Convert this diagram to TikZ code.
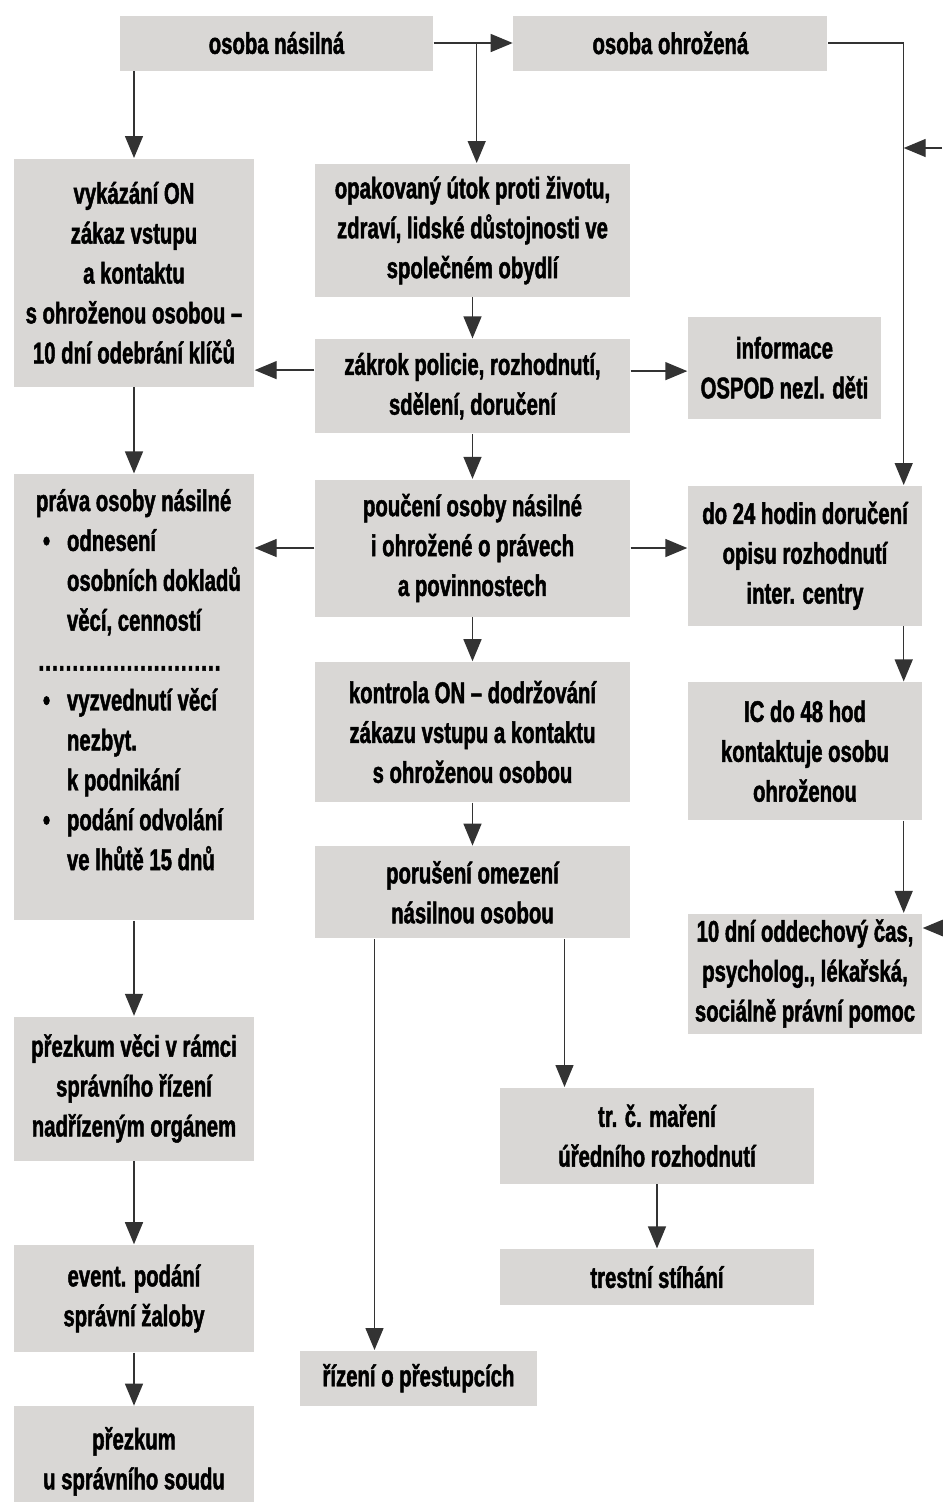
\documentclass[tikz,border=0pt]{standalone}
\usepackage{fontspec}
\newfontfamily\boxfont{Liberation Sans Bold}[FakeStretch=0.68,FakeBold=1.5]
\usetikzlibrary{arrows.meta,positioning}
\definecolor{boxgray}{RGB}{217,215,213}

\begin{document}
\begin{tikzpicture}[->,>={Triangle[length=0.44cm,width=0.36cm]},line width=0.8pt,
                    color=black!80,node distance=1cm]
  \tikzstyle{box}=[fill=boxgray,draw=none,text=black,align=center,inner sep=0pt,
                   font=\boxfont\fontsize{17pt}{22.7pt}\selectfont]
  \tikzstyle{lbox}=[box,minimum width=4.8cm]
  \tikzstyle{mbox}=[box,minimum width=6.3cm]
  \tikzstyle{rbox}=[box,minimum width=4.68cm]

  \useasboundingbox (0,0) rectangle (18.84,-30.04);

  % top row
  \node[box,minimum width=6.26cm,minimum height=1.1cm] (nasilna) at (5.53,-0.86) {osoba násilná};
  \node[box,minimum width=6.28cm,minimum height=1.1cm] (ohrozena) [right=1.58cm of nasilna] {osoba ohrožená};

  % left column
  \node[lbox,minimum height=4.56cm,anchor=north] (vykazani) at (2.68,-3.16)
       {vykázání ON\\zákaz vstupu\\a kontaktu\\s ohroženou osobou –\\10 dní odebrání klíčů};
  \node[lbox,minimum height=8.92cm] (prava) [below=1.72cm of vykazani] {};
  \node[box,fill=none,align=left,anchor=north west] (pravatext)
       at ([xshift=0.44cm,yshift=-0.3cm]prava.north west)
       {práva osoby násilné\\
        \hspace*{0.14cm}\makebox[0.48cm][l]{•}odnesení\\
        \hspace*{0.62cm}osobních dokladů\\
        \hspace*{0.62cm}věcí, cenností\\
        \hspace*{0.04cm}\makebox[3.66cm]{\xleaders\hbox to 0.135cm{\hss.\hss}\hfill}\\
        \hspace*{0.14cm}\makebox[0.48cm][l]{•}vyzvednutí věcí\\
        \hspace*{0.62cm}nezbyt.\\
        \hspace*{0.62cm}k podnikání\\
        \hspace*{0.14cm}\makebox[0.48cm][l]{•}podání odvolání\\
        \hspace*{0.62cm}ve lhůtě 15 dnů};
  \node[lbox,minimum height=2.88cm] (prezkum) [below=1.9cm of prava]
       {přezkum věci v rámci\\správního řízení\\nadřízeným orgánem};
  \node[lbox,minimum height=2.14cm] (zaloba) [below=1.66cm of prezkum]
       {event. podání\\správní žaloby};
  \node[lbox,minimum height=2.2cm] (soud) [below=1.06cm of zaloba]
       {přezkum\\u správního soudu};

  % middle column
  \node[mbox,minimum height=2.66cm,anchor=north] (utok) at (9.45,-3.26)
       {opakovaný útok proti životu,\\zdraví, lidské důstojnosti ve\\společném obydlí};
  \node[mbox,minimum height=1.88cm] (zakrok) [below=0.82cm of utok]
       {zákrok policie, rozhodnutí,\\sdělení, doručení};
  \node[mbox,minimum height=2.74cm] (pouceni) [below=0.9cm of zakrok]
       {poučení osoby násilné\\i ohrožené o právech\\a povinnostech};
  \node[mbox,minimum height=2.8cm] (kontrola) [below=0.88cm of pouceni]
       {kontrola ON – dodržování\\zákazu vstupu a kontaktu\\s ohroženou osobou};
  \node[mbox,minimum height=1.84cm] (poruseni) [below=0.86cm of kontrola]
       {porušení omezení\\násilnou osobou};
  \node[box,minimum width=6.28cm,minimum height=1.92cm,anchor=north] (trc) at (13.14,-21.74)
       {tr. č. maření\\úředního rozhodnutí};
  \node[box,minimum width=6.28cm,minimum height=1.12cm] (trestni) [below=1.28cm of trc]
       {trestní stíhání};
  \node[box,minimum width=4.74cm,minimum height=1.1cm,anchor=north] (prestupky) at (8.37,-27.0)
       {řízení o přestupcích};

  % right column
  \node[box,minimum width=3.86cm,minimum height=2.04cm,anchor=north] (informace) at (15.69,-6.32)
       {informace\\OSPOD nezl. děti};
  \node[rbox,minimum height=2.8cm,anchor=north] (do24) at (16.1,-9.7)
       {do 24 hodin doručení\\opisu rozhodnutí\\inter. centry};
  \node[rbox,minimum height=2.76cm] (ic) [below=1.1cm of do24]
       {IC do 48 hod\\kontaktuje osobu\\ohroženou};
  \node[rbox,minimum height=2.4cm] (oddech) [below=1.84cm of ic]
       {10 dní oddechový čas,\\psycholog., lékařská,\\sociálně právní pomoc};

  \coordinate (split) at ([xshift=0.86cm]nasilna.east);
  \coordinate (rline) at ([xshift=-0.38cm]do24.north east);
  \coordinate (inA) at (18.84,-2.96);
  \coordinate (inB) at (18.84,-18.56);
  \coordinate (zl) at ([yshift=0.32cm]zakrok.west);
  \coordinate (zr) at ([yshift=0.3cm]zakrok.east);
  \coordinate (pA) at ([xshift=-1.96cm]poruseni.south);
  \coordinate (pB) at ([xshift=1.84cm]poruseni.south);

  \path (nasilna) edge (ohrozena)
        (utok) edge (zakrok)
        (zakrok) edge (pouceni)
        (pouceni) edge (kontrola)
        (kontrola) edge (poruseni)
        (vykazani) edge (prava)
        (prava) edge (prezkum)
        (prezkum) edge (zaloba)
        (zaloba) edge (soud)
        (trc) edge (trestni);

  \draw (vykazani.north |- nasilna.south) -- (vykazani.north);
  \draw (split) -- (split |- utok.north);
  \draw (ohrozena.east) -| (rline);
  \draw (inA) -- (inA -| rline);
  \draw (zl) -- (zl -| vykazani.east);
  \draw (zr) -- (zr -| informace.west);
  \draw (pouceni.west) -- (pouceni.west -| prava.east);
  \draw (pouceni.east) -- (pouceni.east -| do24.west);
  \draw (do24.south -| rline) -- (ic.north -| rline);
  \draw (ic.south -| rline) -- (oddech.north -| rline);
  \draw (inB) -- (inB -| oddech.east);
  \draw (pA) -- (pA |- prestupky.north);
  \draw (pB) -- (pB |- trc.north);
\end{tikzpicture}
\end{document}
